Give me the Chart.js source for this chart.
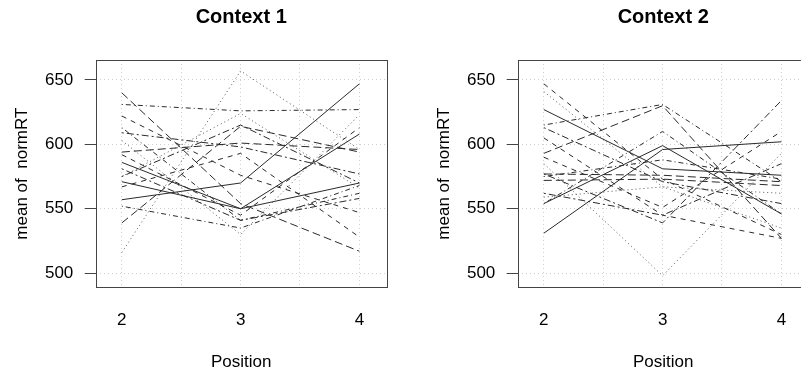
<!DOCTYPE html>
<html>
<head>
<meta charset="utf-8">
<script src="https://cdn.jsdelivr.net/npm/chart.js@4"></script>
<style>
  html, body { margin: 0; padding: 0; background: #fff; overflow: hidden; }
  body { width: 801px; height: 373px; position: relative; }
  canvas { position: absolute; top: 0; }
  #ctx1 { left: 0; }
  #ctx2 { left: 422px; }
</style>
</head>
<body>
<canvas id="ctx1" width="420" height="373"></canvas>
<canvas id="ctx2" width="420" height="373"></canvas>
<script>
// Posições no eixo x e marcas dos eixos
const positions = [2, 3, 4];
const xTicks = [2, 2.5, 3, 3.5, 4];
const yTicks = [500, 550, 600, 650];

// Média de normRT por sujeito, Context 1
const context1 = [
    [586, 550, 608],
    [571, 550, 570],
    [557, 570, 647],
    [640, 554, 517],
    [631, 626, 627],
    [516, 657, 596],
    [622, 576, 547],
    [539, 614, 594],
    [552, 535, 568],
    [594, 601, 596],
    [592, 545, 613],
    [581, 541, 558],
    [575, 624, 566],
    [603, 530, 623],
    [609, 598, 577],
    [567, 593, 528],
    [613, 541, 562],
    [575, 615, 570]
];

// Context 2
const context2 = [
    [627, 581, 576],
    [554, 599, 546],
    [531, 596, 602],
    [647, 573, 530],
    [641, 567, 535],
    [615, 631, 571],
    [593, 630, 527],
    [585, 498, 593],
    [577, 539, 634],
    [590, 551, 610],
    [572, 573, 568],
    [575, 588, 573],
    [559, 567, 562],
    [562, 545, 585],
    [605, 545, 527],
    [613, 571, 554],
    [577, 576, 571],
    [554, 610, 546]
];

// Tipos de linha do R (solid, longdash, dotdash, dotted, dashed, twodash)
const dashes = {
    solid: [],
    dashed: [5, 5],
    dotted: [1, 3],
    dotdash: [1, 3, 5, 3],
    longdash: [8, 4],
    twodash: [2, 3, 7, 3]
};
const styles1 = ['solid','solid','solid','longdash','dotdash','dotted','dashed','longdash','dotdash',
    'longdash','dashed','twodash','dotted','dotted','twodash','dashed','dotdash','twodash'];
const styles2 = ['solid','solid','solid','dashed','dotted','dotdash','longdash','dotted','twodash',
    'dashed','longdash','dotdash','dotted','twodash','dashed','twodash','longdash','dotdash'];

// Caixa em volta da área do gráfico
const boxPlugin = {
    id: 'box',
    afterDraw(chart) {
        const a = chart.chartArea;
        const ctx = chart.ctx;
        ctx.save();
        ctx.strokeStyle = '#444';
        ctx.lineWidth = 1;
        ctx.strokeRect(Math.round(a.left) + 0.5, Math.round(a.top) + 0.5,
            Math.round(a.right - a.left), Math.round(a.bottom - a.top));
        ctx.restore();
    }
};

function makeChart(id, title, series, styles) {
    const datasets = series.map((vals, i) => ({
        data: positions.map((p, j) => ({ x: p, y: vals[j] })),
        borderColor: styles[i] === 'dotted' ? '#555' : '#2a2a2a',
        borderWidth: 1,
        borderDash: dashes[styles[i]],
        pointRadius: 0,
        tension: 0,
        fill: false
    }));

    new Chart(document.getElementById(id).getContext('2d'), {
        type: 'line',
        data: { datasets: datasets },
        options: {
            responsive: false,
            animation: false,
            devicePixelRatio: 1,
            layout: { padding: { left: 0, right: 33.3, top: 0, bottom: 0 } },
            plugins: {
                legend: { display: false },
                tooltip: { enabled: false },
                title: {
                    display: true,
                    text: title,
                    fullSize: false,
                    color: '#000',
                    font: { family: 'Liberation Sans', size: 20, weight: 'bold' },
                    padding: { top: 5.5, bottom: 30.5 }
                }
            },
            scales: {
                x: {
                    type: 'linear',
                    min: 1.78,
                    max: 4.23,
                    afterBuildTicks: s => { s.ticks = xTicks.map(v => ({ value: v })); },
                    afterFit: s => { s.height = 85.7; },
                    grid: { color: '#cfcfcf', drawTicks: false },
                    border: { display: false, dash: [1, 3] },
                    ticks: {
                        autoSkip: false,
                        maxRotation: 0,
                        padding: 22.5,
                        color: '#000',
                        font: { family: 'Liberation Sans', size: 17 },
                        callback: v => (v % 1 === 0 ? String(v) : '')
                    },
                    title: {
                        display: true,
                        text: 'Position',
                        color: '#000',
                        font: { family: 'Liberation Sans', size: 17 },
                        padding: { top: 0, bottom: 0 }
                    }
                },
                y: {
                    min: 489,
                    max: 665.5,
                    afterBuildTicks: s => { s.ticks = yTicks.map(v => ({ value: v })); },
                    afterFit: s => { s.width = 95.7; },
                    grid: { color: '#cfcfcf', tickColor: '#444', tickLength: 11, tickBorderDash: [] },
                    border: { display: false, dash: [1, 3] },
                    ticks: {
                        padding: 11.4,
                        color: '#000',
                        font: { family: 'Liberation Sans', size: 17 }
                    },
                    title: {
                        display: true,
                        text: 'mean of  normRT',
                        color: '#000',
                        font: { family: 'Liberation Sans', size: 17 },
                        padding: { top: 12.3, bottom: 0 }
                    }
                }
            }
        },
        plugins: [boxPlugin]
    });
}

makeChart('ctx1', 'Context 1', context1, styles1);
makeChart('ctx2', 'Context 2', context2, styles2);
</script>
</body>
</html>
